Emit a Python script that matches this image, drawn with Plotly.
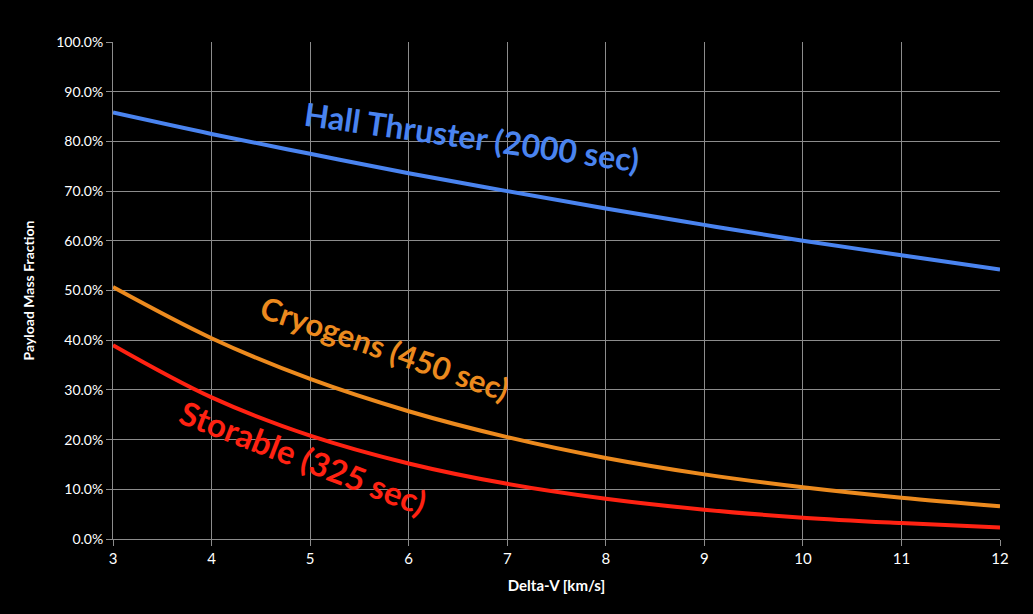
import plotly.graph_objects as go

# Delta-V [km/s]
delta_v = [3, 4, 5, 6, 7, 8, 9, 10, 11, 12]

# payload mass fraction
hall = [0.858, 0.815, 0.775, 0.736, 0.700, 0.665, 0.632, 0.600, 0.571, 0.542]
cryogens = [0.507, 0.404, 0.322, 0.257, 0.205, 0.163, 0.130, 0.104, 0.083, 0.066]
storable = [0.390, 0.285, 0.208, 0.152, 0.111, 0.081, 0.059, 0.043, 0.032, 0.023]

x_ticks = list(range(3, 13))
y_ticks = [i / 10 for i in range(11)]

BLUE = "#4A84F0"
ORANGE = "#EC8A1E"
RED = "#FF2212"
GRID = "#8C8C8C"
FONT = "Lato"

fig = go.Figure()

for name, vals, color in [("Hall Thruster (2000 sec)", hall, BLUE),
                          ("Cryogens (450 sec)", cryogens, ORANGE),
                          ("Storable (325 sec)", storable, RED)]:
    fig.add_trace(go.Scatter(x=delta_v, y=vals, mode="lines", name=name,
                             line=dict(color=color, width=4, shape="spline")))

fig.update_layout(
    width=1033, height=614, paper_bgcolor="black", plot_bgcolor="black",
    showlegend=False,
    margin=dict(l=113, r=33, t=42, b=75),
    font=dict(family=FONT, color="white"),
    xaxis=dict(range=[3, 12], tickvals=x_ticks, showgrid=True,
               gridcolor=GRID, gridwidth=1, zeroline=False,
               ticks="outside", ticklen=6, tickcolor=GRID,
               showline=True, linecolor=GRID, linewidth=1,
               tickfont=dict(size=15, color="white"),
               title=dict(text="<b>Delta-V [km/s]</b>", standoff=14,
                          font=dict(size=15, color="white"))),
    yaxis=dict(range=[0, 1], tickvals=y_ticks, tickformat=".1%",
               showgrid=True, gridcolor=GRID, gridwidth=1, zeroline=False,
               ticks="outside", ticklen=6, tickcolor=GRID,
               showline=True, linecolor=GRID, linewidth=1,
               tickfont=dict(size=14, color="white"),
               title=dict(text="<b>Payload Mass Fraction</b>", standoff=18,
                          font=dict(size=14, color="white"))),
)

labels = [("Hall Thruster (2000 sec)", 6.64, 0.81, 8, 32, BLUE),
          ("Cryogens (450 sec)", 5.76, 0.385, 19, 31, ORANGE),
          ("Storable (325 sec)", 4.93, 0.165, 21, 33, RED)]
for text, x, y, angle, size, color in labels:
    fig.add_annotation(text="<b>" + text + "</b>", x=x, y=y, showarrow=False,
                       textangle=angle, xanchor="center", yanchor="middle",
                       font=dict(family=FONT, size=size, color=color))

fig.write_html("out.html", config={"displayModeBar": False},
               post_script="document.body.style.margin='0';")
